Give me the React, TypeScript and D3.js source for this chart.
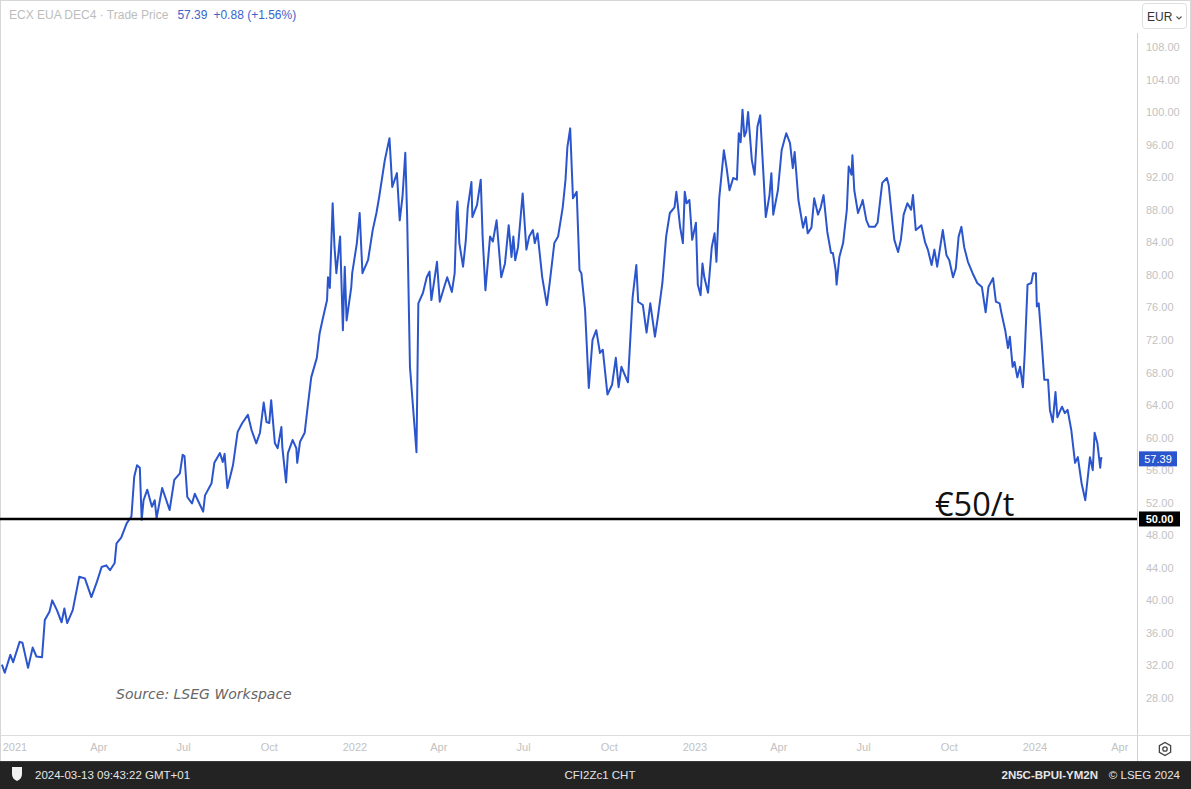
import React from 'react';
import * as d3 from 'd3';

// ---------- data ----------
const series2020_21: [string, number][] = [
  ["2020-12-18",32.1],["2020-12-21",31.1],["2020-12-27",33.3],["2020-12-30",32.4],
  ["2021-01-06",34.9],["2021-01-09",34.8],["2021-01-15",31.7],["2021-01-20",34.2],["2021-01-24",33.1],["2021-01-30",33.0],
  ["2021-02-02",37.6],["2021-02-07",38.6],["2021-02-10",40.0],["2021-02-15",38.8],["2021-02-20",37.3],["2021-02-23",39.0],["2021-02-26",37.2],
  ["2021-03-04",38.8],["2021-03-11",42.9],["2021-03-17",42.7],["2021-03-24",40.4],["2021-03-30",42.3],
  ["2021-04-04",44.1],["2021-04-09",44.3],["2021-04-13",43.7],["2021-04-18",44.6],["2021-04-20",47.0],["2021-04-25",47.7],
  ["2021-05-01",49.5],["2021-05-06",50.3],["2021-05-09",55.2],["2021-05-12",56.6],["2021-05-15",56.3],["2021-05-17",49.9],["2021-05-19",52.3],["2021-05-23",53.6],["2021-05-28",51.5],["2021-05-31",52.3],
  ["2021-06-02",50.1],["2021-06-08",53.8],["2021-06-16",51.1],["2021-06-21",54.8],["2021-06-27",55.6],["2021-06-30",57.9],
  ["2021-07-02",57.7],["2021-07-05",52.7],["2021-07-10",51.9],["2021-07-13",53.1],["2021-07-22",50.9],["2021-07-24",52.9],["2021-07-31",54.4],
  ["2021-08-03",56.9],["2021-08-09",58.1],["2021-08-12",57.0],["2021-08-14",58.0],["2021-08-17",53.8],["2021-08-23",56.6],["2021-08-28",60.7],
  ["2021-09-02",61.8],["2021-09-08",62.8],["2021-09-12",60.9],["2021-09-17",59.3],["2021-09-21",60.6],["2021-09-25",64.3],["2021-09-28",61.9],
  ["2021-10-01",61.8],["2021-10-03",64.6],["2021-10-07",59.3],["2021-10-10",58.7],["2021-10-14",61.3],["2021-10-15",58.8],["2021-10-19",54.5],["2021-10-21",58.1],["2021-10-26",59.7],["2021-10-30",58.7],["2021-10-31",56.9],
  ["2021-11-03",59.5],["2021-11-08",60.6],["2021-11-11",63.6],["2021-11-15",67.4],["2021-11-21",69.8],["2021-11-24",72.8],["2021-11-27",74.4],
  ["2021-12-02",76.9],["2021-12-03",79.7],["2021-12-05",78.4],["2021-12-08",88.8],["2021-12-10",83.4],["2021-12-12",80.2],["2021-12-16",84.7],["2021-12-19",73.2],["2021-12-21",81.0],["2021-12-23",74.4],["2021-12-28",78.5],["2021-12-29",80.2],
];

const series2022: [string, number][] = [
  ["2022-01-03",83.9],["2022-01-06",87.6],["2022-01-09",80.2],["2022-01-15",81.8],["2022-01-20",85.5],["2022-01-24",87.6],["2022-01-27",89.6],
  ["2022-02-02",94.1],["2022-02-07",96.8],["2022-02-10",90.8],["2022-02-15",92.5],["2022-02-18",86.7],["2022-02-21",89.6],["2022-02-24",95.0],["2022-02-26",87.1],
  ["2022-03-01",68.7],["2022-03-08",58.2],["2022-03-10",76.5],["2022-03-15",77.8],["2022-03-19",79.7],["2022-03-22",80.4],["2022-03-24",76.9],["2022-03-30",81.6],
  ["2022-04-02",76.7],["2022-04-07",78.6],["2022-04-10",79.7],["2022-04-15",77.9],["2022-04-18",80.2],["2022-04-20",87.7],["2022-04-21",89.0],["2022-04-23",83.9],["2022-04-27",81.0],["2022-04-30",84.3],
  ["2022-05-02",88.2],["2022-05-06",91.4],["2022-05-07",87.1],["2022-05-12",88.6],["2022-05-16",91.7],["2022-05-18",84.7],["2022-05-21",78.1],["2022-05-26",84.7],["2022-05-29",84.1],
  ["2022-06-02",86.7],["2022-06-07",79.7],["2022-06-11",81.4],["2022-06-15",86.1],["2022-06-18",82.2],["2022-06-20",84.7],["2022-06-22",81.8],["2022-06-25",83.4],["2022-06-30",90.0],
  ["2022-07-04",83.1],["2022-07-07",84.7],["2022-07-11",85.5],["2022-07-13",83.9],["2022-07-16",85.1],["2022-07-21",79.7],["2022-07-26",76.3],["2022-07-29",79.0],
  ["2022-08-03",83.9],["2022-08-07",84.7],["2022-08-12",88.3],["2022-08-15",91.7],["2022-08-17",95.7],["2022-08-20",98.0],["2022-08-23",89.4],["2022-08-27",90.2],["2022-08-30",80.6],
  ["2022-09-01",80.2],["2022-09-05",75.7],["2022-09-09",66.1],["2022-09-13",72.0],["2022-09-17",73.2],["2022-09-21",70.4],["2022-09-24",70.8],["2022-09-29",65.3],
  ["2022-10-04",66.5],["2022-10-08",69.8],["2022-10-11",66.2],["2022-10-14",68.7],["2022-10-21",66.8],["2022-10-26",77.2],["2022-10-30",81.2],
  ["2022-11-01",76.7],["2022-11-06",76.3],["2022-11-10",72.9],["2022-11-14",76.5],["2022-11-19",72.4],["2022-11-22",74.7],["2022-11-27",79.0],
  ["2022-12-01",84.7],["2022-12-05",87.6],["2022-12-10",88.3],["2022-12-12",90.2],["2022-12-16",85.9],["2022-12-19",83.9],["2022-12-21",90.2],["2022-12-23",88.8],["2022-12-26",89.2],["2022-12-29",84.3],
];

const series2023: [string, number][] = [
  ["2023-01-02",86.4],["2023-01-04",78.8],["2023-01-07",77.5],["2023-01-09",81.4],["2023-01-11",79.7],["2023-01-15",77.8],["2023-01-19",83.4],["2023-01-22",85.1],["2023-01-24",81.6],["2023-01-27",89.4],
  ["2023-02-01",95.3],["2023-02-04",93.1],["2023-02-07",90.4],["2023-02-11",91.9],["2023-02-15",91.7],["2023-02-17",97.4],["2023-02-19",96.3],["2023-02-21",100.3],["2023-02-23",97.0],["2023-02-25",97.6],["2023-02-27",100.0],
  ["2023-03-03",94.1],["2023-03-06",92.3],["2023-03-09",98.2],["2023-03-12",99.6],["2023-03-15",93.3],["2023-03-18",87.1],["2023-03-22",89.8],["2023-03-24",92.5],["2023-03-26",87.4],["2023-03-31",90.4],
  ["2023-04-04",95.3],["2023-04-07",96.6],["2023-04-09",97.4],["2023-04-13",96.2],["2023-04-16",93.1],["2023-04-18",95.1],["2023-04-22",89.2],["2023-04-27",85.8],["2023-04-30",87.1],
  ["2023-05-02",85.1],["2023-05-06",85.8],["2023-05-09",89.4],["2023-05-13",87.4],["2023-05-16",88.3],["2023-05-19",89.8],["2023-05-23",85.3],["2023-05-27",82.7],["2023-05-29",82.7],
  ["2023-06-01",80.6],["2023-06-02",78.8],["2023-06-05",82.2],["2023-06-09",83.9],["2023-06-13",88.0],["2023-06-15",93.3],["2023-06-18",92.3],["2023-06-19",94.7],["2023-06-21",90.4],["2023-06-25",87.6],["2023-06-29",88.8],["2023-06-30",89.2],
  ["2023-07-04",86.7],["2023-07-07",85.9],["2023-07-13",85.9],["2023-07-16",86.4],["2023-07-21",91.3],["2023-07-26",91.9],["2023-07-28",91.0],
  ["2023-08-01",86.4],["2023-08-03",84.3],["2023-08-07",82.8],["2023-08-10",84.3],["2023-08-13",87.4],["2023-08-17",88.8],["2023-08-21",88.0],["2023-08-23",89.8],["2023-08-26",85.5],["2023-08-29",85.8],
  ["2023-09-01",86.1],["2023-09-05",84.0],["2023-09-08",83.1],["2023-09-12",81.2],["2023-09-15",83.1],["2023-09-18",81.0],["2023-09-24",85.5],["2023-09-28",82.4],
  ["2023-10-01",81.8],["2023-10-05",79.7],["2023-10-08",80.8],["2023-10-11",84.7],["2023-10-14",85.9],["2023-10-17",83.4],["2023-10-21",81.6],["2023-10-26",80.2],["2023-10-31",79.0],
  ["2023-11-05",78.5],["2023-11-09",75.4],["2023-11-12",78.5],["2023-11-17",79.6],["2023-11-20",76.7],["2023-11-24",76.5],["2023-11-26",75.3],["2023-11-30",73.2],
  ["2023-12-03",71.0],["2023-12-05",72.4],["2023-12-08",68.7],["2023-12-10",69.3],["2023-12-13",67.4],["2023-12-16",68.7],["2023-12-19",66.2],["2023-12-21",70.4],["2023-12-24",78.8],["2023-12-28",79.0],["2023-12-30",80.2],
];

const series2024: [string, number][] = [
  ["2024-01-02",80.2],["2024-01-03",76.1],["2024-01-05",76.5],["2024-01-08",72.0],["2024-01-11",67.1],["2024-01-15",67.1],["2024-01-17",63.4],["2024-01-20",61.9],["2024-01-23",65.6],["2024-01-25",62.5],["2024-01-30",63.8],
  ["2024-02-02",63.0],["2024-02-05",63.4],["2024-02-09",60.9],["2024-02-13",56.9],["2024-02-16",57.6],["2024-02-20",54.4],["2024-02-24",52.3],["2024-02-29",57.6],
  ["2024-03-03",56.0],["2024-03-05",60.6],["2024-03-08",59.3],["2024-03-11",56.3],["2024-03-12",57.5],["2024-03-13",57.39],
];

const yTicks = [28, 32, 36, 40, 44, 48, 52, 56, 60, 64, 68, 72, 76, 80, 84, 88, 92, 96, 100, 104, 108];
const xTickDates = ["2021-01-01","2021-04-01","2021-07-01","2021-10-01","2022-01-01","2022-04-01","2022-07-01","2022-10-01","2023-01-01","2023-04-01","2023-07-01","2023-10-01","2024-01-01","2024-04-01"];
const xTickLabels = ["2021","Apr","Jul","Oct","2022","Apr","Jul","Oct","2023","Apr","Jul","Oct","2024","Apr"];
const thresholdValue = 50;
const thresholdLabel = "€50/t";
const instrument = "ECX EUA DEC4";
const priceField = "Trade Price";
const changeText = "+0.88 (+1.56%)";
const currency = "EUR";
const sourceText = "Source: LSEG Workspace";
const footerLeft = "2024-03-13 09:43:22 GMT+01";
const footerCenter = "CFI2Zc1 CHT";
const footerCode = "2N5C-BPUI-YM2N";
const footerCopy = "© LSEG 2024";

const W = 1191, H = 789;
const PLOT_LEFT = 0, PLOT_RIGHT = 1137, PLOT_TOP = 33, PLOT_BOTTOM = 735, FOOTER_TOP = 761;
const FONT = "'Liberation Sans', Arial, sans-serif";

export default function App() {
  const parse = d3.utcParse('%Y-%m-%d');
  const data = [...series2020_21, ...series2022, ...series2023, ...series2024].map(([d, v]) => ({ date: parse(d) as Date, value: v }));
  const x = d3.scaleUtc().domain([parse('2021-01-01') as Date, parse('2024-01-01') as Date]).range([15, 1035]);
  const y = d3.scaleLinear().domain([28, 108]).range([698, 47]);
  const line = d3.line<{ date: Date; value: number }>().x(d => x(d.date)).y(d => y(d.value));
  const fmt = d3.format('.2f');
  const last = data[data.length - 1];
  const blue = '#2b55cc';

  const yLast = y(last.value);
  const yThr = y(thresholdValue);

  return (
    <div style={{ position: 'absolute', left: 0, top: 0, width: W, height: H, background: '#fff' }}>
      <svg width={W} height={H} style={{ display: 'block', fontFamily: FONT }}>
        <defs>
          <clipPath id="plotClip">
            <rect x={PLOT_LEFT} y={PLOT_TOP} width={PLOT_RIGHT - PLOT_LEFT} height={PLOT_BOTTOM - PLOT_TOP} />
          </clipPath>
        </defs>
        <rect x={0} y={0} width={W} height={H} fill="#fff" />
        {/* outer border */}
        <rect x={0.5} y={0.5} width={W - 1} height={H - 1} fill="none" stroke="#d6d6d6" />

        {/* header */}
        <text x={9} y={19} fontSize={12}>
          <tspan fill="#bdbdbd">{instrument}</tspan>
          <tspan fill="#bdbdbd"> · {priceField}</tspan>
          <tspan fill="#3b63c9" dx={9}>{fmt(last.value)}</tspan>
          <tspan fill="#3b63c9" dx={6}>{changeText}</tspan>
        </text>

        {/* currency button */}
        <rect x={1142.5} y={3.5} width={44} height={25} rx={3} fill="#fff" stroke="#dedede" />
        <text x={1147} y={21} fontSize={12} fill="#333">{currency}</text>
        <path d="M1176.5,16.5 l2.5,2.5 l2.5,-2.5" fill="none" stroke="#555" strokeWidth={1.1} />

        {/* axis frame */}
        <line x1={PLOT_RIGHT + 0.5} x2={PLOT_RIGHT + 0.5} y1={PLOT_TOP} y2={FOOTER_TOP} stroke="#d0d0d0" />
        <line x1={0} x2={W} y1={PLOT_BOTTOM + 0.5} y2={PLOT_BOTTOM + 0.5} stroke="#dcdcdc" />

        {/* y tick labels */}
        {yTicks.map(t => (
          <text key={t} x={1146} y={y(t) + 4} fontSize={11} fill="#c2c2c2">{fmt(t)}</text>
        ))}

        {/* x tick labels */}
        {xTickDates.map((d, i) => (
          <text key={d} x={x(parse(d) as Date)} y={751} fontSize={11} fill="#c2c2c2" textAnchor="middle">{xTickLabels[i]}</text>
        ))}

        {/* price line */}
        <g clipPath="url(#plotClip)">
          <path d={line(data) || ''} fill="none" stroke={blue} strokeWidth={2} strokeLinejoin="round" />
        </g>

        {/* threshold line */}
        <line x1={PLOT_LEFT} x2={PLOT_RIGHT} y1={yThr} y2={yThr} stroke="#000" strokeWidth={2.5} />
        <text x={935} y={yThr - 3} fontSize={32.5} fill="#111" fontFamily="'Open Sans', 'Noto Sans', sans-serif">{thresholdLabel}</text>

        {/* badges */}
        <rect x={1139} y={yThr - 7.5} width={41} height={15} fill="#000" />
        <text x={1159.5} y={yThr + 4} fontSize={11} fill="#fff" fontWeight="bold" textAnchor="middle">{fmt(thresholdValue)}</text>
        <rect x={1139} y={yLast - 7.5} width={38} height={15} fill={blue} />
        <text x={1158} y={yLast + 4} fontSize={11} fill="#fff" textAnchor="middle">{fmt(last.value)}</text>

        {/* source */}
        <text x={116} y={699} fontSize={14} fontStyle="italic" fill="#666" fontFamily="'DejaVu Sans', sans-serif">{sourceText}</text>

        {/* settings icon */}
        <g transform="translate(1165,749)" fill="none" stroke="#444" strokeWidth={1.3}>
          <polygon points={d3.range(6).map(i => { const a = Math.PI / 3 * i + Math.PI / 6; return `${6.5 * Math.cos(a)},${6.5 * Math.sin(a)}`; }).join(' ')} />
          <circle r={2.2} />
        </g>

        {/* footer */}
        <rect x={0} y={FOOTER_TOP} width={W} height={H - FOOTER_TOP} fill="#232323" />
        <line x1={0} x2={W} y1={FOOTER_TOP + 0.5} y2={FOOTER_TOP + 0.5} stroke="#3a3a3a" />
        <path d="M12,767 h10 v7 q0,5 -5,7 q-5,-2 -5,-7 z" fill="#f2f2f2" />
        <text x={35} y={779} fontSize={11.5} fill="#e6e6e6">{footerLeft}</text>
        <text x={600} y={779} fontSize={11.5} fill="#e6e6e6" textAnchor="middle">{footerCenter}</text>
        <text x={1098} y={779} fontSize={11.5} fill="#e6e6e6" fontWeight="bold" textAnchor="end">{footerCode}</text>
        <text x={1180} y={779} fontSize={11.5} fill="#e6e6e6" textAnchor="end">{footerCopy}</text>
      </svg>
    </div>
  );
}
